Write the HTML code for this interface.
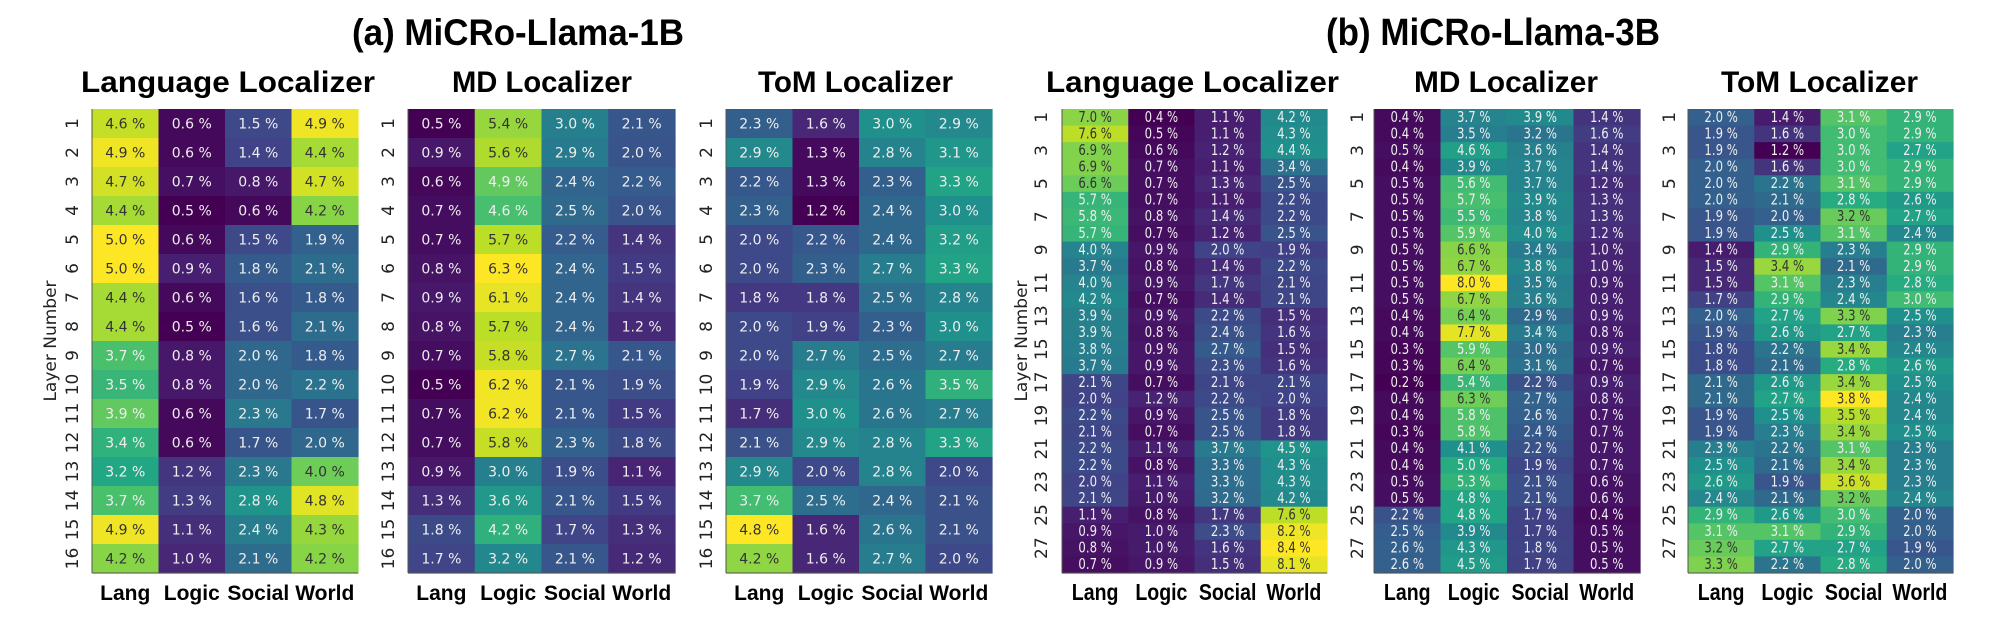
<!DOCTYPE html>
<html><head><meta charset="utf-8"><style>
html,body{margin:0;padding:0;background:#fff;}
svg{display:block;}
</style></head><body>
<svg id="s" width="2000" height="628" xmlns="http://www.w3.org/2000/svg"></svg>
<script>
const V=[[68,1,84],[72,35,116],[64,67,135],[52,94,141],[41,120,142],[32,144,140],[34,167,132],[68,190,112],[121,209,81],[189,222,38],[253,231,37]];
function vir(t){t=Math.max(0,Math.min(1,t));const p=t*10,i=Math.min(9,Math.floor(p)),f=p-i;const a=V[i],b=V[i+1];return `rgb(${a.map((v,k)=>Math.round(v+(b[k]-v)*f)).join(',')})`;}
const A1=[[4.6,0.6,1.5,4.9],[4.9,0.6,1.4,4.4],[4.7,0.7,0.8,4.7],[4.4,0.5,0.6,4.2],[5.0,0.6,1.5,1.9],[5.0,0.9,1.8,2.1],[4.4,0.6,1.6,1.8],[4.4,0.5,1.6,2.1],[3.7,0.8,2.0,1.8],[3.5,0.8,2.0,2.2],[3.9,0.6,2.3,1.7],[3.4,0.6,1.7,2.0],[3.2,1.2,2.3,4.0],[3.7,1.3,2.8,4.8],[4.9,1.1,2.4,4.3],[4.2,1.0,2.1,4.2]];
const A2=[[0.5,5.4,3.0,2.1],[0.9,5.6,2.9,2.0],[0.6,4.9,2.4,2.2],[0.7,4.6,2.5,2.0],[0.7,5.7,2.2,1.4],[0.8,6.3,2.4,1.5],[0.9,6.1,2.4,1.4],[0.8,5.7,2.4,1.2],[0.7,5.8,2.7,2.1],[0.5,6.2,2.1,1.9],[0.7,6.2,2.1,1.5],[0.7,5.8,2.3,1.8],[0.9,3.0,1.9,1.1],[1.3,3.6,2.1,1.5],[1.8,4.2,1.7,1.3],[1.7,3.2,2.1,1.2]];
const A3=[[2.3,1.6,3.0,2.9],[2.9,1.3,2.8,3.1],[2.2,1.3,2.3,3.3],[2.3,1.2,2.4,3.0],[2.0,2.2,2.4,3.2],[2.0,2.3,2.7,3.3],[1.8,1.8,2.5,2.8],[2.0,1.9,2.3,3.0],[2.0,2.7,2.5,2.7],[1.9,2.9,2.6,3.5],[1.7,3.0,2.6,2.7],[2.1,2.9,2.8,3.3],[2.9,2.0,2.8,2.0],[3.7,2.5,2.4,2.1],[4.8,1.6,2.6,2.1],[4.2,1.6,2.7,2.0]];
const B1=[[7.0,0.4,1.1,4.2],[7.6,0.5,1.1,4.3],[6.9,0.6,1.2,4.4],[6.9,0.7,1.1,3.4],[6.6,0.7,1.3,2.5],[5.7,0.7,1.1,2.2],[5.8,0.8,1.4,2.2],[5.7,0.7,1.2,2.5],[4.0,0.9,2.0,1.9],[3.7,0.8,1.4,2.2],[4.0,0.9,1.7,2.1],[4.2,0.7,1.4,2.1],[3.9,0.9,2.2,1.5],[3.9,0.8,2.4,1.6],[3.8,0.9,2.7,1.5],[3.7,0.9,2.3,1.6],[2.1,0.7,2.1,2.1],[2.0,1.2,2.2,2.0],[2.2,0.9,2.5,1.8],[2.1,0.7,2.5,1.8],[2.2,1.1,3.7,4.5],[2.2,0.8,3.3,4.3],[2.0,1.1,3.3,4.3],[2.1,1.0,3.2,4.2],[1.1,0.8,1.7,7.6],[0.9,1.0,2.3,8.2],[0.8,1.0,1.6,8.4],[0.7,0.9,1.5,8.1]];
const B2=[[0.4,3.7,3.9,1.4],[0.4,3.5,3.2,1.6],[0.5,4.6,3.6,1.4],[0.4,3.9,3.7,1.4],[0.5,5.6,3.7,1.2],[0.5,5.7,3.9,1.3],[0.5,5.5,3.8,1.3],[0.5,5.9,4.0,1.2],[0.5,6.6,3.4,1.0],[0.5,6.7,3.8,1.0],[0.5,8.0,3.5,0.9],[0.5,6.7,3.6,0.9],[0.4,6.4,2.9,0.9],[0.4,7.7,3.4,0.8],[0.3,5.9,3.0,0.9],[0.3,6.4,3.1,0.7],[0.2,5.4,2.2,0.9],[0.4,6.3,2.7,0.8],[0.4,5.8,2.6,0.7],[0.3,5.8,2.4,0.7],[0.4,4.1,2.2,0.7],[0.4,5.0,1.9,0.7],[0.5,5.3,2.1,0.6],[0.5,4.8,2.1,0.6],[2.2,4.8,1.7,0.4],[2.5,3.9,1.7,0.5],[2.6,4.3,1.8,0.5],[2.6,4.5,1.7,0.5]];
const B3=[[2.0,1.4,3.1,2.9],[1.9,1.6,3.0,2.9],[1.9,1.2,3.0,2.7],[2.0,1.6,3.0,2.9],[2.0,2.2,3.1,2.9],[2.0,2.1,2.8,2.6],[1.9,2.0,3.2,2.7],[1.9,2.5,3.1,2.4],[1.4,2.9,2.3,2.9],[1.5,3.4,2.1,2.9],[1.5,3.1,2.3,2.8],[1.7,2.9,2.4,3.0],[2.0,2.7,3.3,2.5],[1.9,2.6,2.7,2.3],[1.8,2.2,3.4,2.4],[1.8,2.1,2.8,2.6],[2.1,2.6,3.4,2.5],[2.1,2.7,3.8,2.4],[1.9,2.5,3.5,2.4],[1.9,2.3,3.4,2.5],[2.3,2.2,3.1,2.3],[2.5,2.1,3.4,2.3],[2.6,1.9,3.6,2.3],[2.4,2.1,3.2,2.4],[2.9,2.6,3.0,2.0],[3.1,3.1,2.9,2.0],[3.2,2.7,2.7,1.9],[3.3,2.2,2.8,2.0]];
const TOP=109,BOT=573;
let o='';
function T(x,y,s,size,opt={}){const w=opt.w?` textLength="${opt.w}" lengthAdjust="spacingAndGlyphs"`:'';const fam=opt.mono?'"DejaVu Sans","Liberation Sans",sans-serif':'"Liberation Sans",Arial,sans-serif';
o+=`<text x="${x}" y="${y}" font-family='${fam}' font-size="${size}" ${opt.bold?'font-weight="bold"':''} fill="${opt.fill||'#000'}" text-anchor="${opt.anchor||'middle'}"${w}${opt.tr?` transform="${opt.tr}"`:''}>${s}</text>`;}
function hm(D,x0,x1,title,tx0,tx1,tickx,b){
 const n=D.length,cw=(x1-x0)/4,rh=(BOT-TOP)/n;
 let mn=1e9,mx=-1e9;D.forEach(r=>r.forEach(v=>{mn=Math.min(mn,v);mx=Math.max(mx,v);}));
 D.forEach((r,i)=>r.forEach((v,j)=>{const t=(v-mn)/(mx-mn);const x=x0+j*cw,y=TOP+i*rh;
  o+=`<rect x="${x}" y="${y}" width="${cw+0.6}" height="${rh+0.6}" fill="${vir(t)}"/>`;
  const fc=t>0.76?'#333':'#eee';const cx=x+cw/2,cy=y+rh/2+5;
  if(b) o+=`<text transform="translate(${cx},${cy-0.5}) scale(0.78,1)" font-family='"DejaVu Sans",sans-serif' font-size="15" fill="${fc}" text-anchor="middle">${v.toFixed(1)} %</text>`;
  else T(cx,cy,v.toFixed(1)+' %',14,{mono:1,fill:fc});
 }));
 o+=`<line x1="${x0}" y1="${TOP}" x2="${x0}" y2="${BOT}" stroke="#555" stroke-width="1"/><line x1="${x0}" y1="${BOT}" x2="${x1}" y2="${BOT}" stroke="#555" stroke-width="1"/>`;
 const tw=tx1-tx0;T((tx0+tx1)/2,92,title,30,{bold:1,w:tw});
 for(let i=0;i<n;i++){if(b&&i%2)continue;const cy=TOP+i*rh+rh/2;
  o+=`<text transform="translate(${tickx},${cy}) rotate(-90)" font-family='"DejaVu Sans",sans-serif' font-size="17" fill="#222" text-anchor="middle">${i+1}</text>`;}
 ['Lang','Logic','Social','World'].forEach((s,j)=>{const cx=x0+j*cw+cw/2;
  if(b) o+=`<text transform="translate(${cx},600) scale(0.85,1)" font-family='"Liberation Sans",sans-serif' font-size="23" font-weight="bold" text-anchor="middle">${s}</text>`;
  else T(cx,600,s,21,{bold:1});});
}
hm(A1,92,358,'Language Localizer',81,375,78,0);
hm(A2,408,675,'MD Localizer',452,632,394,0);
hm(A3,726,992,'ToM Localizer',758,953,712,0);
hm(B1,1062,1327,'Language Localizer',1046,1339,1047,1);
hm(B2,1374,1640,'MD Localizer',1414,1598,1363,1);
hm(B3,1688,1953,'ToM Localizer',1721,1918,1675,1);
T(518,45,'(a) MiCRo-Llama-1B',37,{bold:1,w:332});
T(1493,45,'(b) MiCRo-Llama-3B',38,{bold:1,w:334});
o+=`<text transform="translate(56,341) rotate(-90)" font-family='"DejaVu Sans",sans-serif' font-size="17" fill="#222" text-anchor="middle">Layer Number</text>`;
o+=`<text transform="translate(1027,341) rotate(-90)" font-family='"DejaVu Sans",sans-serif' font-size="17" fill="#222" text-anchor="middle">Layer Number</text>`;
document.getElementById('s').innerHTML=o;
</script>
</body></html>
